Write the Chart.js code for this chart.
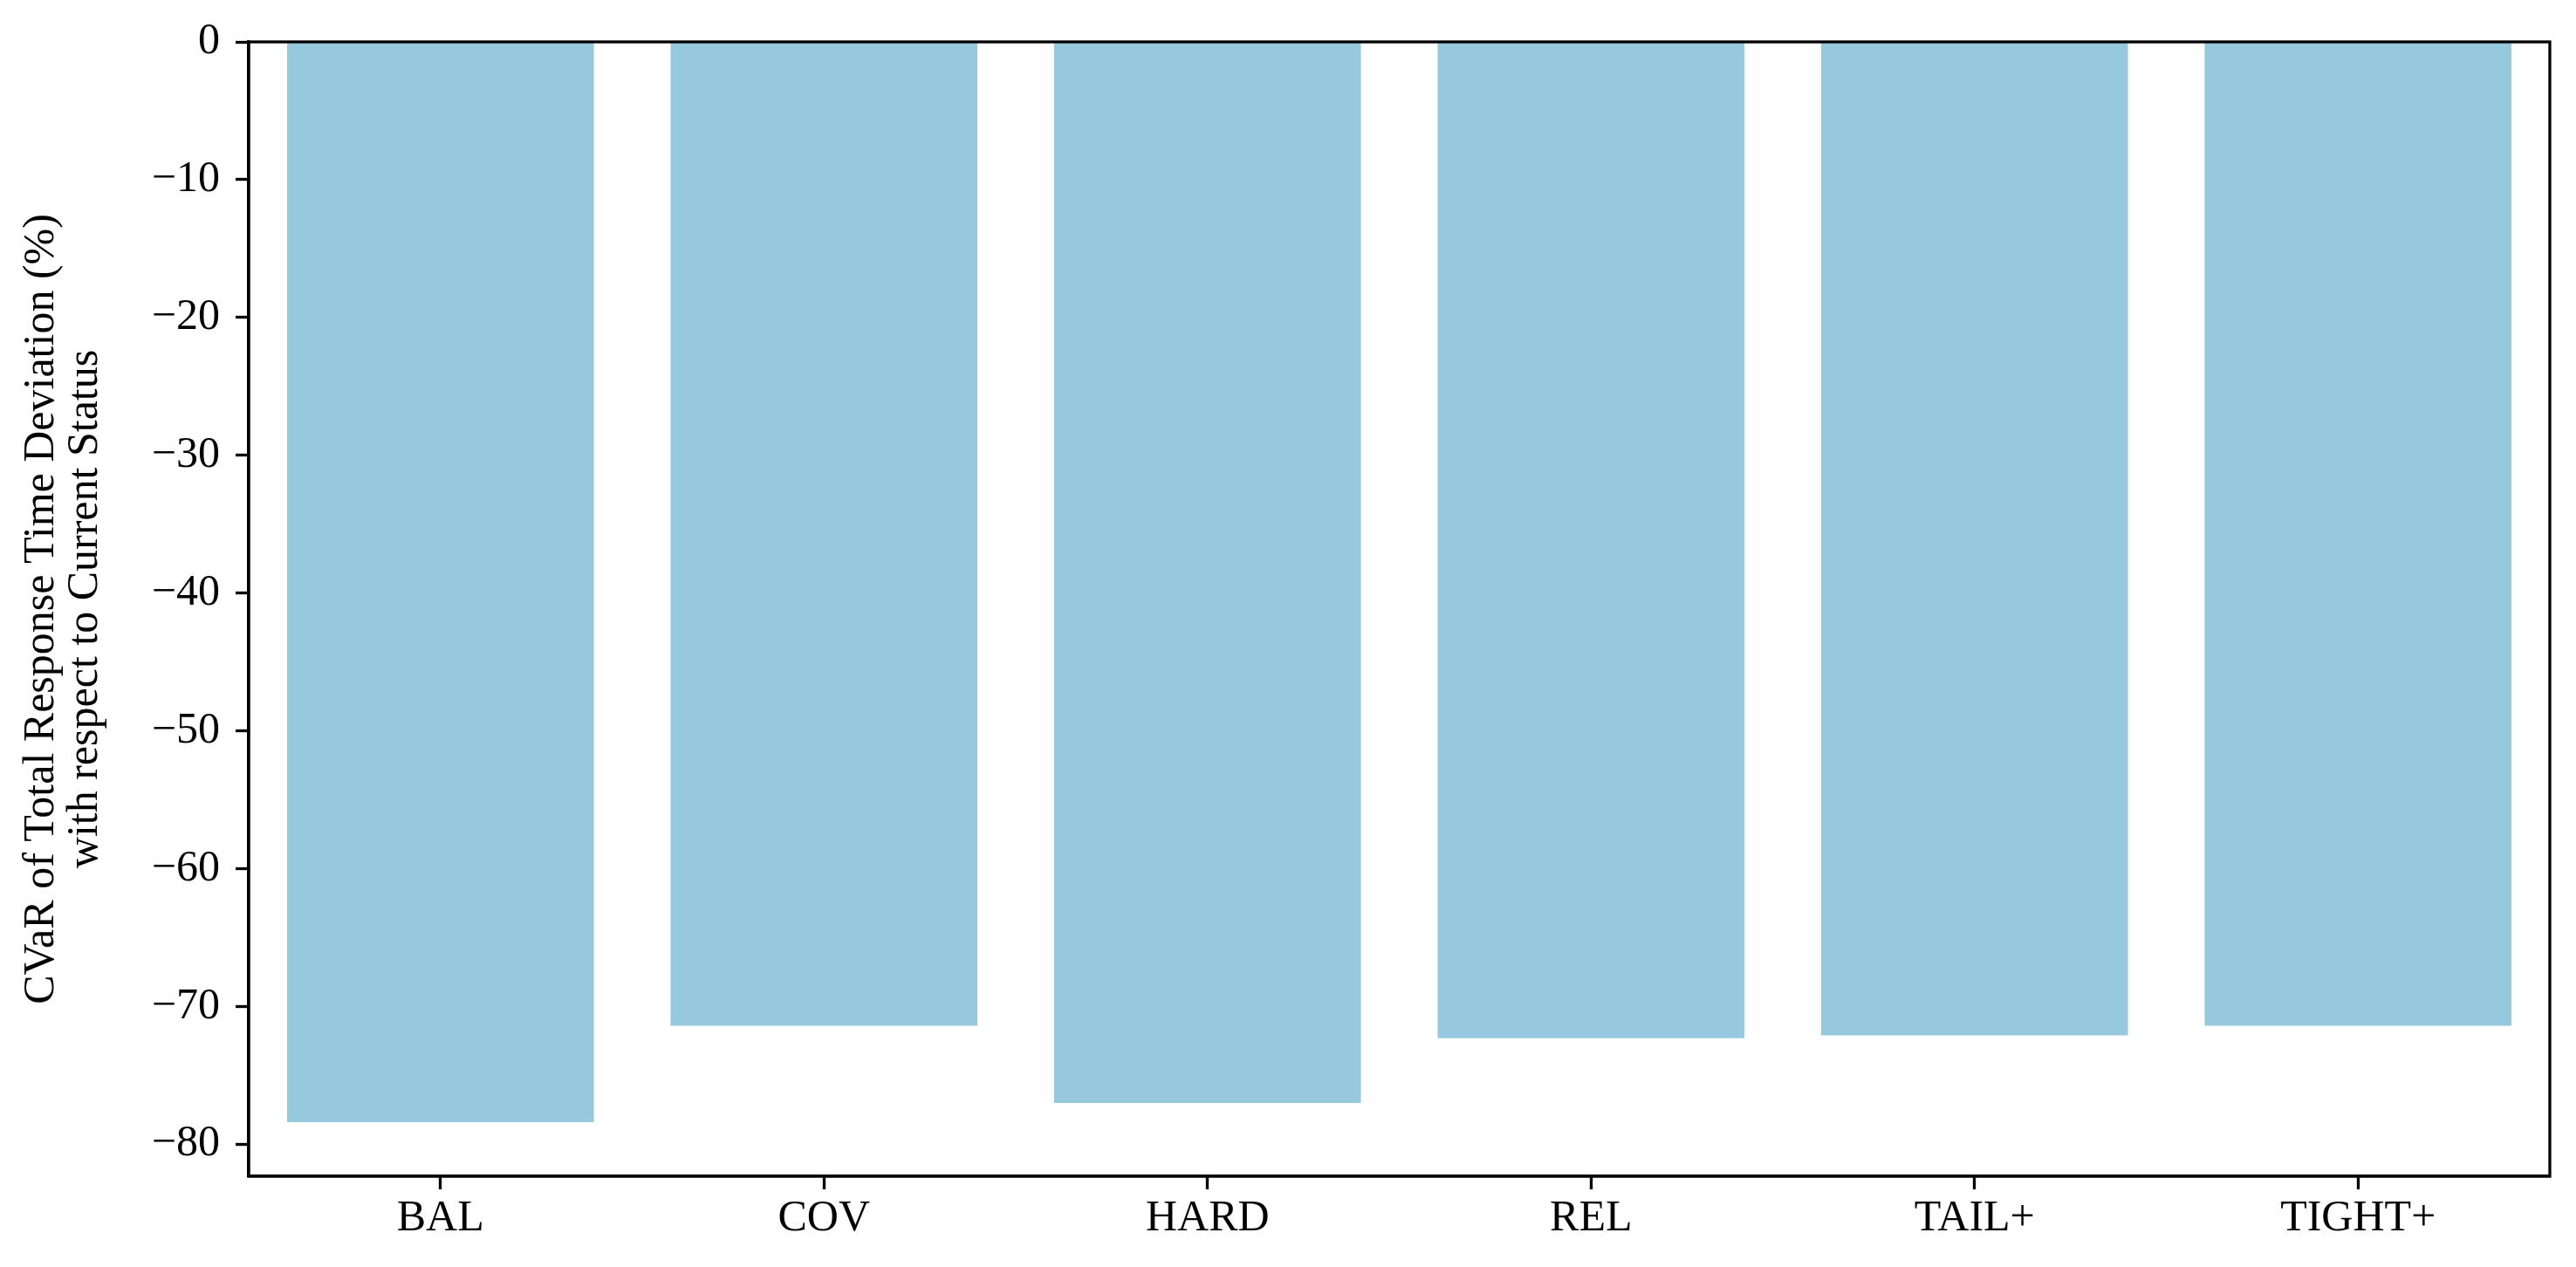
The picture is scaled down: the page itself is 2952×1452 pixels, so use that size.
<!DOCTYPE html>
<html>
<head>
<meta charset="utf-8">
<title>CVaR of Total Response Time Deviation</title>
<script src="https://cdn.jsdelivr.net/npm/chart.js@4/dist/chart.umd.min.js"></script>
<style>
  html, body { margin: 0; padding: 0; background: #fff; }
  #wrap { width: 2952px; height: 1452px; }
</style>
</head>
<body>
<div id="wrap"><canvas id="chart" width="2952" height="1452"></canvas></div>
<script>
// ─── Data ────────────────────────────────────────────────────────────────────

const categories = ['BAL', 'COV', 'HARD', 'REL', 'TAIL+', 'TIGHT+'];
const cvarValues = [-78.4, -71.4, -77.0, -72.3, -72.1, -71.4];
const yTicks = [0, -10, -20, -30, -40, -50, -60, -70, -80];
const yTitle = ['CVaR of Total Response Time Deviation (%)', 'with respect to Current Status'];

// ─── Style ───────────────────────────────────────────────────────────────────

const FONT = "'Liberation Serif', 'Times New Roman', serif";
const BAR_COLOR = '#96c9de';
const LINE_W = 3.3;

// Rahmen oben + rechts (wie matplotlib-Spines)
const frame = {
  id: 'frame',
  afterDatasetsDraw(chart) {
    const { ctx, chartArea: a } = chart;
    ctx.save();
    ctx.strokeStyle = '#000';
    ctx.lineWidth = LINE_W;
    ctx.strokeRect(a.left, a.top, a.right - a.left, a.bottom - a.top);
    ctx.restore();
  }
};

const minus = v => (v < 0 ? '\u2212' + Math.abs(v) : String(v));

new Chart(document.getElementById('chart'), {
  type: 'bar',
  data: {
    labels: categories,
    datasets: [{
      data: cvarValues,
      backgroundColor: BAR_COLOR,
      borderWidth: 0,
      barPercentage: 0.8,
      categoryPercentage: 1.0,
    }],
  },
  options: {
    responsive: false,
    animation: false,
    devicePixelRatio: 1,
    layout: { padding: { left: 0, top: 47, right: 30, bottom: 0 } },
    plugins: { legend: { display: false }, tooltip: { enabled: false } },
    scales: {
      x: {
        offset: true,
        grid: { offset: false, drawOnChartArea: false, drawTicks: true, tickLength: 15, tickWidth: LINE_W, tickColor: '#000' },
        border: { display: true, color: '#000', width: LINE_W },
        ticks: { color: '#000', font: { family: FONT, size: 50 }, padding: 4, maxRotation: 0, autoSkip: false },
        afterFit: s => { s.height = 104; },
      },
      y: {
        min: -82.32,
        max: 0,
        grid: { drawOnChartArea: false, drawTicks: true, tickLength: 15, tickWidth: LINE_W, tickColor: '#000' },
        border: { display: true, color: '#000', width: LINE_W },
        ticks: {
          color: '#000', font: { family: FONT, size: 50 }, padding: 18,
          includeBounds: false, callback: minus,
        },
        afterBuildTicks: s => { s.ticks = yTicks.map(v => ({ value: v })); },
        title: {
          display: true, text: yTitle, color: '#000',
          font: { family: FONT, size: 50, lineHeight: 1 },
          padding: { top: 23, bottom: 0 },
        },
        afterFit: s => { s.width = 285; },
      },
    },
  },
  plugins: [frame],
});
</script>
</body>
</html>
